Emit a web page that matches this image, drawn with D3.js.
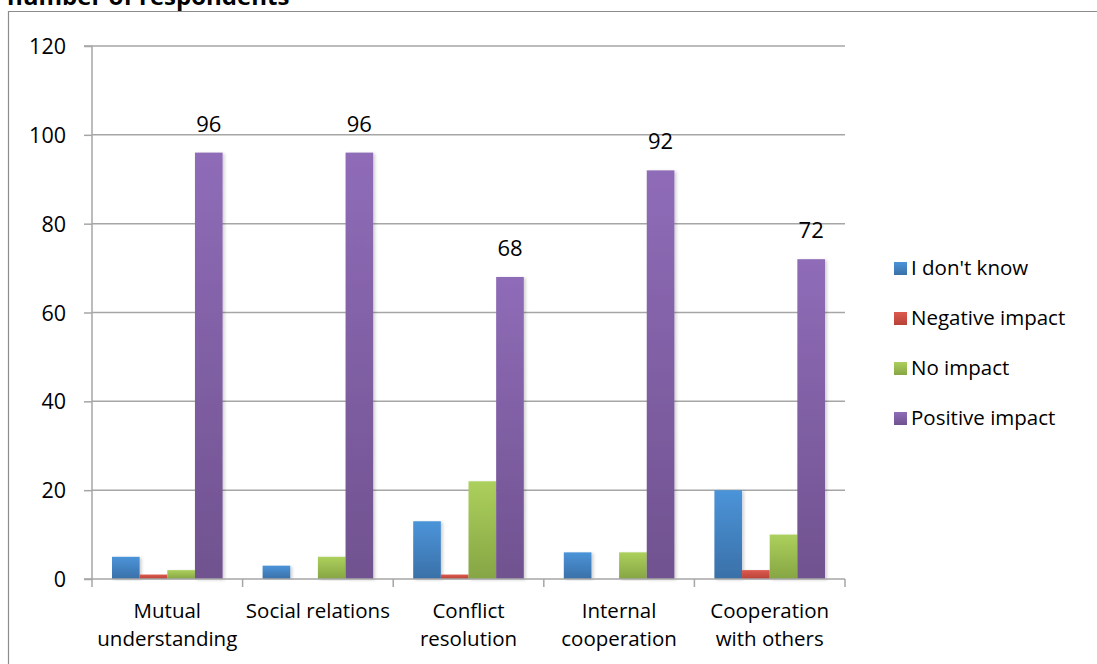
<!DOCTYPE html>
<html><head><meta charset="utf-8">
<script src="https://cdn.jsdelivr.net/npm/d3@7/dist/d3.min.js"></script>
<style>body{margin:0;background:#fff;}svg{display:block;}</style>
</head><body>
<svg id="c" width="1097" height="664"></svg>
<script>
const categories = [["Mutual","understanding"],["Social relations"],["Conflict","resolution"],["Internal","cooperation"],["Cooperation","with others"]];
const seriesNames = ["I don't know","Negative impact","No impact","Positive impact"];
const dontKnow = [5,3,13,6,20];
const negative = [1,0,1,0,2];
const noImpact = [2,5,22,6,10];
const positive = [96,96,68,92,72];
const yTicks = [0,20,40,60,80,100,120];
const values = [dontKnow, negative, noImpact, positive];
const colors = [["#4b94d9","#3a70a8"],["#dc5a4e","#b84138"],["#acd05c","#86a544"],["#8f6cb8","#70528f"]];

const svg = d3.select("#c");
const font = "'Open Sans', 'DejaVu Sans', sans-serif";
const L = 92, R = 845, T = 46, B = 579;

const defs = svg.append("defs");
colors.forEach((c,i)=>{
  const g = defs.append("linearGradient").attr("id","g"+i).attr("x1",0).attr("y1",0).attr("x2",0).attr("y2",1);
  g.append("stop").attr("offset","0%").attr("stop-color",c[0]);
  g.append("stop").attr("offset","100%").attr("stop-color",c[1]);
});
const f = defs.append("filter").attr("id","sh").attr("x","-20%").attr("y","-5%").attr("width","150%").attr("height","110%");
f.append("feDropShadow").attr("dx",2).attr("dy",1).attr("stdDeviation",1.5).attr("flood-color","#000").attr("flood-opacity",0.18);

// title (cut off at top, as in the reference)
svg.append("text").attr("x",7).attr("y",5).attr("font-family",font).attr("font-weight","bold").attr("font-size",24).attr("fill","#000").text("number of respondents");

// frame
svg.append("path").attr("d","M8.5,700 V11.5 H1100").attr("fill","none").attr("stroke","#8c8c8c").attr("stroke-width",1.2);

const x0 = d3.scaleBand().domain(d3.range(categories.length)).range([L,R]).padding(0);
const x1 = d3.scaleBand().domain(d3.range(seriesNames.length)).range([20, x0.bandwidth()-20]).padding(0);
const y = d3.scaleLinear().domain([0,120]).range([B,T]);

// gridlines
svg.append("g").selectAll("line").data(yTicks.filter(d=>d>0)).join("line")
  .attr("x1",L).attr("x2",R).attr("y1",d=>y(d)).attr("y2",d=>y(d))
  .attr("stroke","#a6a6a6").attr("stroke-width",1.5);

// y axis
const ya = svg.append("g").attr("transform",`translate(${L},0)`).call(d3.axisLeft(y).tickValues(yTicks).tickSize(8).tickPadding(18));
ya.select(".domain").attr("stroke","#a6a6a6").attr("stroke-width",1.5).attr("d",`M-8,${T}H0V${B}H-8`);
ya.selectAll(".tick line").attr("stroke","#a6a6a6").attr("stroke-width",1.5);
ya.selectAll(".tick text").attr("font-family",font).attr("font-size",21.5).attr("fill","#000").attr("dy","0.35em");

// bars
categories.forEach((cat,ci)=>{
  const g = svg.append("g").attr("transform",`translate(${x0(ci)},0)`);
  g.selectAll("rect").data(values.map((v,si)=>({si,v:v[ci]}))).join("rect")
    .attr("x",d=>x1(d.si)).attr("width",x1.bandwidth())
    .attr("y",d=>y(d.v)).attr("height",d=>B-y(d.v))
    .attr("fill",d=>`url(#g${d.si})`).attr("filter","url(#sh)");
  g.append("text").attr("x",x1(3)+x1.bandwidth()/2).attr("y",y(positive[ci])-21)
    .attr("text-anchor","middle").attr("font-family",font).attr("font-size",22).attr("fill","#000").text(positive[ci]);
});

// x axis
const xa = svg.append("g").attr("transform",`translate(0,${B})`);
xa.append("line").attr("x1",L).attr("x2",R).attr("y1",0).attr("y2",0).attr("stroke","#a6a6a6").attr("stroke-width",1.5);
xa.selectAll("line.t").data(d3.range(categories.length+1)).join("line").attr("class","t")
  .attr("x1",d=>L+d*x0.bandwidth()).attr("x2",d=>L+d*x0.bandwidth()).attr("y1",0).attr("y2",8)
  .attr("stroke","#a6a6a6").attr("stroke-width",1.5);
categories.forEach((cat,ci)=>{
  const t = xa.append("text").attr("text-anchor","middle").attr("font-family",font).attr("font-size",20.5).attr("fill","#000");
  cat.forEach((line,li)=>{
    t.append("tspan").attr("x",x0(ci)+x0.bandwidth()/2).attr("y",39+li*28).text(line);
  });
});

// legend
const lg = svg.append("g");
seriesNames.forEach((n,i)=>{
  const yy = 268 + i*50;
  lg.append("rect").attr("x",894).attr("y",yy-6).attr("width",13).attr("height",13).attr("fill",`url(#g${i})`);
  lg.append("text").attr("x",911).attr("y",yy).attr("dy","0.35em").attr("font-family",font).attr("font-size",20.5).attr("fill","#000").text(n);
});
</script>
</body></html>
